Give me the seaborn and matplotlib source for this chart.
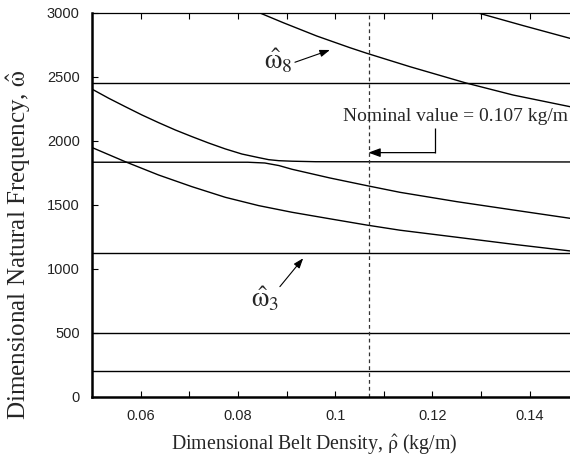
import matplotlib
matplotlib.use("Agg")
import matplotlib.pyplot as plt
import seaborn as sns
import numpy as np
import pandas as pd

# ---------------- data ----------------
x_range = [0.05, 0.15]
flat_modes = [205, 498, 1125, 2450]           # density-independent frequencies

curve_a_x = [0.05, 0.05679, 0.06366, 0.07051, 0.07737, 0.08424, 0.0911, 0.0989, 0.1065, 0.1133, 0.125, 0.1366, 0.1483]
curve_a_y = [1948, 1838, 1734, 1643, 1560, 1495, 1443, 1392, 1343, 1303, 1248, 1193, 1141]

curve_b_x = [0.05, 0.05337, 0.05679, 0.06023, 0.06366, 0.06708, 0.07051, 0.07395, 0.07737, 0.0808, 0.08424, 0.0863, 0.0884, 0.0911, 0.0960, 0.15]
curve_b_y = [2404, 2334, 2268, 2203, 2143, 2086, 2034, 1984, 1938, 1898, 1870, 1854, 1846, 1842, 1838, 1836]

curve_c_x = [0.05, 0.0820, 0.0855, 0.0884, 0.0911, 0.0989, 0.1065, 0.1133, 0.125, 0.1366, 0.1483]
curve_c_y = [1834, 1834, 1828, 1808, 1779, 1711, 1651, 1599, 1526, 1461, 1396]

curve_d_x = [0.0845, 0.0893, 0.0962, 0.1030, 0.1065, 0.1154, 0.1270, 0.1366, 0.1483]
curve_d_y = [3000, 2924, 2820, 2729, 2685, 2580, 2452, 2359, 2268]

curve_e_x = [0.1294, 0.1387, 0.1483]
curve_e_y = [3000, 2901, 2802]

nominal_density = 0.107

xticks_major = [0.06, 0.08, 0.10, 0.12, 0.14]
xtick_labels = ["0.06", "0.08", "0.1", "0.12", "0.14"]
xticks_minor = [0.07, 0.09, 0.11, 0.13]
yticks = [0, 500, 1000, 1500, 2000, 2500, 3000]
ytick_labels = ["0", "500", "1000", "1500", "2000", "2500", "3000"]

# ---------------- style ----------------
sns.set_theme(style="ticks")
plt.rcParams["font.family"] = ["Liberation Serif", "DejaVu Serif"]
plt.rcParams["mathtext.fontset"] = "stix"

fig = plt.figure(figsize=(5.70, 4.54), dpi=100)
ax = fig.add_axes([0.1619, 0.1256, 0.8526, 0.8458])

line_kw = dict(color="black", linewidth=1.0, sort=False, estimator=None, ax=ax, legend=False)

for v in flat_modes:
    sns.lineplot(x=x_range, y=[v, v], **line_kw)

for cx, cy in [(curve_a_x, curve_a_y), (curve_b_x, curve_b_y), (curve_c_x, curve_c_y),
               (curve_d_x, curve_d_y), (curve_e_x, curve_e_y)]:
    sns.lineplot(x=cx, y=cy, **line_kw)

# nominal density dashed line
sns.lineplot(x=[nominal_density, nominal_density], y=[0, 3000], color="#333333",
             linewidth=0.9, sort=False, estimator=None, ax=ax, legend=False)
ax.lines[-1].set_dashes([3, 2.5])

ax.set_xlim(0.05, 0.15)
ax.set_ylim(0, 3000)

ax.set_xticks(xticks_major)
ax.set_xticklabels(xtick_labels)
ax.set_xticks(xticks_minor, minor=True)
ax.set_yticks(yticks)
ax.set_yticklabels(ytick_labels)

for lab in ax.get_xticklabels() + ax.get_yticklabels():
    lab.set_family("Liberation Sans")
    lab.set_fontsize(10.5)
    lab.set_color("#222222")

ax.tick_params(axis="x", which="both", direction="in", length=4, width=0.8,
               top=True, bottom=True, pad=9, color="black")
ax.tick_params(axis="y", which="both", direction="in", length=4, width=0.8,
               left=True, right=False, pad=9, color="black")

for s in ["left", "bottom"]:
    ax.spines[s].set_linewidth(1.8)
    ax.spines[s].set_color("black")
ax.spines["top"].set_linewidth(0.9)
ax.spines["top"].set_color("black")
ax.spines["right"].set_visible(False)

ax.set_xlabel(r"Dimensional Belt Density, $\hat{\mathrm{\rho}}$ (kg/m)", fontsize=14.3)
ax.set_ylabel(r"Dimensional Natural Frequency, $\hat{\mathrm{\omega}}$", fontsize=18)
ax.xaxis.set_label_coords(0.456, -0.090)
ax.yaxis.set_label_coords(-0.122, 0.396)

# annotations
ax.text(0.0883, 2625, r"$\hat{\mathrm{\omega}}_{8}$", fontsize=20, ha="center", va="center")
ax.annotate("", xy=(0.0989, 2711), xytext=(0.0917, 2615),
            arrowprops=dict(arrowstyle="-|>,head_length=0.5,head_width=0.18", color="black", lw=0.8,
                            shrinkA=0, shrinkB=0))

ax.text(0.0856, 765, r"$\hat{\mathrm{\omega}}_{3}$", fontsize=20, ha="center", va="center")
ax.annotate("", xy=(0.0934, 1084), xytext=(0.0886, 862),
            arrowprops=dict(arrowstyle="-|>,head_length=0.5,head_width=0.18", color="black", lw=0.8,
                            shrinkA=0, shrinkB=0))

ax.text(0.1016, 2188, "Nominal value = 0.107 kg/m", fontsize=14, ha="left", va="center")
ax.plot([0.1205, 0.1205], [2099, 1909], color="black", lw=0.9, solid_capstyle="butt")
ax.annotate("", xy=(0.1068, 1909), xytext=(0.1205, 1909),
            arrowprops=dict(arrowstyle="-|>,head_length=0.6,head_width=0.22", color="black", lw=0.9,
                            shrinkA=0, shrinkB=0))

fig.savefig("out.png", dpi=100)
